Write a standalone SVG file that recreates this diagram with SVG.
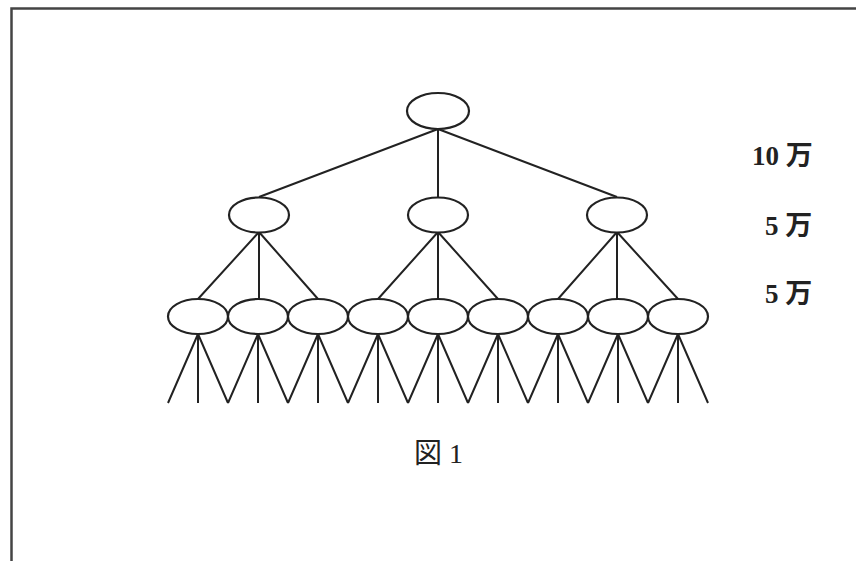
<svg xmlns="http://www.w3.org/2000/svg" width="856" height="561" viewBox="0 0 856 561">
<style>
.n{fill:#fff;stroke:#222;stroke-width:2.2}
.e{stroke:#222;stroke-width:2;fill:none}
.lbl{font-family:"Liberation Serif","Noto Sans CJK JP",serif;font-weight:bold;font-size:27px;fill:#222}
.cap{font-family:"Liberation Serif","Noto Sans CJK JP",serif;font-size:28px;fill:#222}
</style>
<rect width="856" height="561" fill="#fff"/>
<g id="frame" stroke="#444" stroke-width="2.5" fill="none">
<path d="M856 8.5H11.5V561"/>
</g>
<g id="connectors" class="e">
<path d="M438 129L259 197M438 129V197M438 129L617 197"/>
<path d="M259 232L198 299M259 232V299M259 232L318 299"/>
<path d="M438 232L378 299M438 232V299M438 232L498 299"/>
<path d="M617 232L558 299M617 232V299M617 232L678 299"/>
<path d="M198 334L168 403M198 334V403M198 334L228 403"/>
<path d="M258 334L228 403M258 334V403M258 334L288 403"/>
<path d="M318 334L288 403M318 334V403M318 334L348 403"/>
<path d="M378 334L348 403M378 334V403M378 334L408 403"/>
<path d="M438 334L408 403M438 334V403M438 334L468 403"/>
<path d="M498 334L468 403M498 334V403M498 334L528 403"/>
<path d="M558 334L528 403M558 334V403M558 334L588 403"/>
<path d="M618 334L588 403M618 334V403M618 334L648 403"/>
<path d="M678 334L648 403M678 334V403M678 334L708 403"/>
</g>
<g id="root"><ellipse class="n" cx="438" cy="111" rx="31" ry="18"/></g>
<g id="m1"><ellipse class="n" cx="259" cy="215" rx="30" ry="17.5"/></g>
<g id="m2"><ellipse class="n" cx="438" cy="215" rx="30" ry="17.5"/></g>
<g id="m3"><ellipse class="n" cx="617" cy="215" rx="30" ry="17.5"/></g>
<g id="b1"><ellipse class="n" cx="198" cy="316.5" rx="30" ry="17.5"/></g>
<g id="b2"><ellipse class="n" cx="258" cy="316.5" rx="30" ry="17.5"/></g>
<g id="b3"><ellipse class="n" cx="318" cy="316.5" rx="30" ry="17.5"/></g>
<g id="b4"><ellipse class="n" cx="378" cy="316.5" rx="30" ry="17.5"/></g>
<g id="b5"><ellipse class="n" cx="438" cy="316.5" rx="30" ry="17.5"/></g>
<g id="b6"><ellipse class="n" cx="498" cy="316.5" rx="30" ry="17.5"/></g>
<g id="b7"><ellipse class="n" cx="558" cy="316.5" rx="30" ry="17.5"/></g>
<g id="b8"><ellipse class="n" cx="618" cy="316.5" rx="30" ry="17.5"/></g>
<g id="b9"><ellipse class="n" cx="678" cy="316.5" rx="30" ry="17.5"/></g>
<g id="labels">
<text class="lbl" x="752" y="165">10 万</text>
<text class="lbl" x="765" y="235">5 万</text>
<text class="lbl" x="765" y="303">5 万</text>
<text class="cap" x="414" y="463">図 1</text>
</g>
</svg>
